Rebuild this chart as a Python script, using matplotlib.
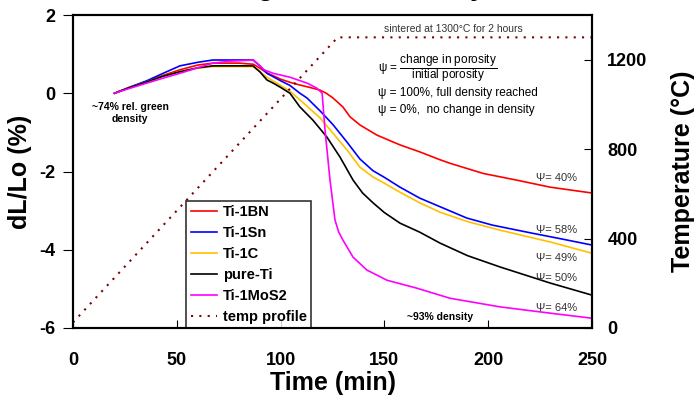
import numpy as np
import matplotlib
matplotlib.use("Agg")
import matplotlib.pyplot as plt
from matplotlib import font_manager

plt.rcParams['font.family'] = ['Liberation Sans', 'DejaVu Sans']
plt.rcParams['axes.unicode_minus'] = False

# Dilatometer curves: time (min) vs dL/Lo (%)
t_bn = [20, 27, 35.6, 43, 51.5, 60, 67.4, 80, 87, 90, 93.4, 96.4, 100, 104.5, 109.3, 114, 119, 122,
        125.2, 130, 133.4, 138.2, 146.4, 157.5, 167.1, 176.8, 181.6, 197.6, 213.7, 229.8, 250]
dl_bn = [0, 0.14, 0.3, 0.45, 0.6, 0.72, 0.77, 0.77, 0.74, 0.64, 0.52, 0.45, 0.36, 0.28, 0.21, 0.15, 0.08, 0.0,
         -0.12, -0.35, -0.6, -0.81, -1.07, -1.32, -1.5, -1.7, -1.79, -2.05, -2.22, -2.4, -2.55]

t_sn = [20, 27, 35.6, 43, 51.5, 60, 67.4, 86.7, 90, 93.4, 100, 104.5, 109.3, 112.7, 119, 125.2, 132,
        138.2, 144.5, 150, 157.5, 167, 176.8, 189.7, 202, 221.5, 235, 250]
dl_sn = [0, 0.15, 0.32, 0.5, 0.70, 0.79, 0.85, 0.85, 0.7, 0.51, 0.32, 0.2, 0.0, -0.12, -0.45, -0.8, -1.25,
         -1.68, -1.98, -2.15, -2.4, -2.68, -2.9, -3.19, -3.37, -3.58, -3.72, -3.88]

t_c = [20, 27, 35.6, 43, 51.5, 60, 67.4, 86.7, 90, 93.4, 100, 104.5, 109.3, 119, 125.2, 132, 138.2,
       144.5, 150, 157.5, 167, 176.8, 190, 205.7, 229.8, 250]
dl_c = [0, 0.14, 0.29, 0.43, 0.55, 0.64, 0.68, 0.68, 0.55, 0.41, 0.2, 0.05, -0.17, -0.63, -1.02, -1.45, -1.89,
        -2.14, -2.3, -2.53, -2.8, -3.04, -3.28, -3.5, -3.8, -4.09]

t_ti = [20, 27, 35.6, 43, 51.5, 60, 67.4, 86.7, 90, 93.4, 96.4, 100, 104.5, 109.3, 115.6, 122.3, 128.6,
        134.9, 139.5, 144.5, 150, 157.5, 167, 176.8, 190, 205.7, 229.8, 250]
dl_ti = [0, 0.14, 0.29, 0.43, 0.55, 0.65, 0.70, 0.70, 0.55, 0.34, 0.26, 0.15, 0.0, -0.35, -0.69, -1.12, -1.63,
         -2.22, -2.55, -2.8, -3.05, -3.32, -3.55, -3.83, -4.15, -4.44, -4.85, -5.16]

t_mos2 = [20, 27, 35.6, 43, 51.5, 60, 67.4, 75.6, 87, 88.6, 92, 96.4, 104.5, 112.7, 117.5, 120, 121.4,
          123.8, 126.2, 128, 130, 134.9, 141.6, 151.3, 165.5, 181.6, 205.7, 229.8, 250]
dl_mos2 = [0, 0.12, 0.26, 0.38, 0.51, 0.65, 0.77, 0.82, 0.85, 0.77, 0.6, 0.51, 0.41, 0.26, 0.13, 0.0, -0.94,
           -2.22, -3.24, -3.55, -3.75, -4.19, -4.52, -4.78, -4.98, -5.24, -5.46, -5.62, -5.75]

# temperature profile: 10 C/min ramp then 2 h hold
t_temp = [0, 127.5, 250]
temp = [25, 1300, 1300]

series = [
    ("Ti-1BN", t_bn, dl_bn, "#ff0000"),
    ("Ti-1Sn", t_sn, dl_sn, "#0000ff"),
    ("Ti-1C", t_c, dl_c, "#ffc000"),
    ("pure-Ti", t_ti, dl_ti, "#000000"),
    ("Ti-1MoS2", t_mos2, dl_mos2, "#ff00ff"),
]

psi_labels = ["Ψ= 40%", "Ψ= 58%", "Ψ= 49%", "Ψ= 50%", "Ψ= 64%"]
psi_y = [-2.17, -3.5, -4.2, -4.73, -5.49]


def has_font(name):
    try:
        font_manager.findfont(name, fallback_to_default=False)
        return True
    except Exception:
        return False


narrow_name = 'Liberation Sans Narrow' if has_font('Liberation Sans Narrow') else 'Liberation Sans'
narrow = [narrow_name, 'DejaVu Sans']
narrow_size = 9.5 if narrow_name == 'Liberation Sans Narrow' else 8.5
plt.rcParams['mathtext.fontset'] = 'custom'
plt.rcParams['mathtext.rm'] = narrow_name
plt.rcParams['mathtext.it'] = narrow_name

fig = plt.figure(figsize=(6.95, 4.0), dpi=100)
ax = fig.add_axes([73/695, 72/400, 519/695, 313/400])
ax2 = ax.twinx()

handles = []
for name, t, d, c in series:
    h, = ax.plot(t, d, color=c, lw=1.2, label=name)
    handles.append(h)
ht, = ax2.plot(t_temp, temp, color="#800000", lw=1.5, ls=(0, (1, 3)), label="temp profile")
handles.append(ht)

ax.set_xlim(0, 250)
ax.set_ylim(-6, 2)
ax2.set_ylim(0, 1400)
ax.set_xticks([0, 50, 100, 150, 200, 250])
ax.set_yticks([-6, -4, -2, 0, 2])
ax2.set_yticks([0, 400, 800, 1200])

ax.tick_params(axis='x', direction='in', length=6, pad=17, labelsize=13)
ax.tick_params(axis='y', direction='out', length=7, pad=6, labelsize=13)
ax2.tick_params(axis='y', direction='in', length=6, pad=11, labelsize=13)
for lab in ax.get_xticklabels() + ax.get_yticklabels() + ax2.get_yticklabels():
    lab.set_fontweight('bold')
for a in (ax, ax2):
    for s in a.spines.values():
        s.set_linewidth(1.5)

ax.set_xlabel("Time (min)", fontsize=18, fontweight='bold', labelpad=2)
ax.set_ylabel("dL/Lo (%)", fontsize=18, fontweight='bold', labelpad=5)
ax2.set_ylabel("Temperature (°C)", fontsize=18, fontweight='bold', labelpad=17)

# title sits above the canvas, only its descenders show
fig.text(0.46, 1.012, "Sintering Behavior Study", fontsize=20, fontweight='bold',
         ha='center', va='baseline')

leg = ax.legend(handles=handles, loc='lower left', bbox_to_anchor=(0.218, 0.0),
                borderaxespad=0, frameon=True, fancybox=False, edgecolor='black',
                prop={'weight': 'bold', 'size': 10.5}, handlelength=1.8,
                labelspacing=0.47, borderpad=0.3, handletextpad=0.4)
leg.get_frame().set_linewidth(1.2)
leg.set_zorder(5)

ax.text(27.5, -0.5, "~74% rel. green\ndensity", fontsize=7.5, fontweight='bold',
        ha='center', va='center', linespacing=1.3)
ax.text(183, 1.64, "sintered at 1300°C for 2 hours", fontsize=7.5, color='#333333',
        ha='center', va='center')
ax.text(176.8, -5.72, "~93% density", fontsize=7.5, fontweight='bold', ha='center', va='center')
for lab, y in zip(psi_labels, psi_y):
    ax.text(233, y, lab, fontsize=8, color='#333333', ha='center', va='center')

ax.text(147, 0.64, r"ψ = $\dfrac{\mathrm{change\ in\ porosity}}{\mathrm{initial\ porosity}}$",
        fontsize=narrow_size, family=narrow, ha='left', va='center')
ax.text(147, 0.0, "ψ = 100%, full density reached", fontsize=narrow_size, family=narrow,
        ha='left', va='center')
ax.text(147, -0.43, "ψ = 0%,  no change in density", fontsize=narrow_size, family=narrow,
        ha='left', va='center')

fig.savefig("out.png", dpi=100)
